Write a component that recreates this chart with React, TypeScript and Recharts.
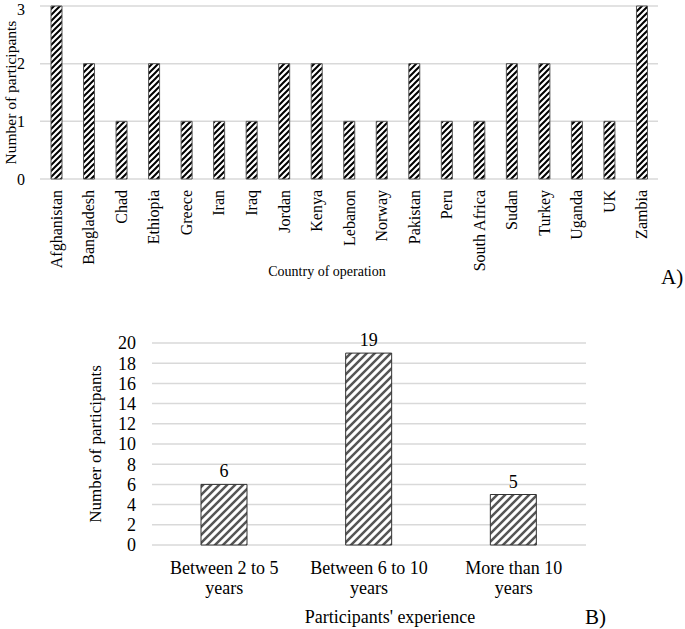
import React from "react";
import { BarChart, Bar, XAxis, YAxis, CartesianGrid, LabelList } from "recharts";

const countries = [
  "Afghanistan", "Bangladesh", "Chad", "Ethiopia", "Greece", "Iran", "Iraq", "Jordan", "Kenya",
  "Lebanon", "Norway", "Pakistan", "Peru", "South Africa", "Sudan", "Turkey", "Uganda", "UK", "Zambia",
];
const countryParticipants = [3, 2, 1, 2, 1, 1, 1, 2, 2, 1, 1, 2, 1, 1, 2, 2, 1, 1, 3];
const countryTicks = [0, 1, 2, 3];

const experienceGroups = ["Between 2 to 5 years", "Between 6 to 10 years", "More than 10 years"];
const experienceParticipants = [6, 19, 5];
const experienceTicks = [0, 2, 4, 6, 8, 10, 12, 14, 16, 18, 20];

const dataA = countries.map((c, i) => ({ country: c, value: countryParticipants[i] }));
const dataB = experienceGroups.map((g, i) => ({ experience: g, value: experienceParticipants[i] }));

const FONT = "Liberation Serif";

const CountryTick = (props: any) => {
  const { x, y, payload } = props;
  return (
    <text
      x={x}
      y={y}
      transform={`rotate(-90, ${x}, ${y})`}
      textAnchor="end"
      dy="0.35em"
      fontSize={16}
      fontFamily={FONT}
      style={{ fontFamily: FONT }}
      fill="#000"
    >
      {payload.value}
    </text>
  );
};

const ExperienceTick = (props: any) => {
  const { x, y, payload } = props;
  const s: string = payload.value;
  const idx = s.lastIndexOf(" ");
  const l1 = s.slice(0, idx);
  const l2 = s.slice(idx + 1);
  return (
    <text x={x} y={y} textAnchor="middle" fontSize={18} fontFamily={FONT} style={{ fontFamily: FONT }} fill="#000">
      <tspan x={x} dy="0.72em">{l1}</tspan>
      <tspan x={x} dy="20">{l2}</tspan>
    </text>
  );
};

export default function App() {
  return (
    <div style={{ position: "absolute", left: 0, top: 0, width: 685, height: 629, background: "#fff", fontFamily: FONT }}>
      <div style={{ position: "absolute", left: 0, top: 0 }}>
        <BarChart width={685} height={290} data={dataA} margin={{ top: 6, right: 27, bottom: 0, left: 0 }} barSize={11} style={{ fontFamily: FONT }}>
          <defs>
            <pattern id="hatchA" patternUnits="userSpaceOnUse" width="6" height="6">
              <rect width="6" height="6" fill="#fff" />
              <path d="M-1,1 l2,-2 M0,6 l6,-6 M5,7 l2,-2" stroke="#000" strokeWidth="2" />
            </pattern>
          </defs>
          <CartesianGrid vertical={false} stroke="#d9d9d9" strokeWidth={1.5} />
          <XAxis
            dataKey="country"
            interval={0}
            axisLine={false}
            tickLine={false}
            tickSize={0}
            tickMargin={11}
            height={111}
            tick={<CountryTick />}
            label={{ value: "Country of operation", position: "insideBottom", offset: 14, dx: -22, fontSize: 14, fontFamily: FONT, fill: "#000" }}
          />
          <YAxis
            domain={[0, 3]}
            ticks={countryTicks}
            width={40}
            axisLine={false}
            tickLine={false}
            tickSize={0}
            tickMargin={15}
            tick={{ fontSize: 16, fontFamily: FONT, fill: "#000" }}
            label={{ value: "Number of participants", angle: -90, position: "insideLeft", offset: 10, fontSize: 15.5, fontFamily: FONT, fill: "#000", style: { textAnchor: "middle" } }}
          />
          <Bar dataKey="value" fill="url(#hatchA)" stroke="#555" strokeWidth={1} isAnimationActive={false} />
        </BarChart>
      </div>
      <div style={{ position: "absolute", left: 661, top: 265, fontSize: 21, lineHeight: "24px", color: "#000" }}>A)</div>

      <div style={{ position: "absolute", left: 0, top: 320 }}>
        <BarChart width={685} height={309} data={dataB} margin={{ top: 23, right: 99, bottom: 0, left: 80 }} barSize={46} style={{ fontFamily: FONT }}>
          <defs>
            <pattern id="hatchB" patternUnits="userSpaceOnUse" width="8" height="8">
              <rect width="8" height="8" fill="#fff" />
              <path d="M-2,2 l4,-4 M0,8 l8,-8 M6,10 l4,-4" stroke="#555" strokeWidth="2.5" />
            </pattern>
          </defs>
          <CartesianGrid vertical={false} stroke="#d9d9d9" strokeWidth={1.5} />
          <XAxis
            dataKey="experience"
            interval={0}
            axisLine={false}
            tickLine={false}
            tickSize={0}
            tickMargin={16}
            height={84}
            tick={<ExperienceTick />}
            label={{ value: "Participants'  experience", position: "insideBottom", offset: 6, dx: 21, fontSize: 18, fontFamily: FONT, fill: "#000", style: { whiteSpace: "pre" } }}
          />
          <YAxis
            domain={[0, 20]}
            ticks={experienceTicks}
            interval={0}
            width={72}
            axisLine={false}
            tickLine={false}
            tickSize={0}
            tickMargin={16}
            tick={{ fontSize: 18, fontFamily: FONT, fill: "#000" }}
            label={{ value: "Number of participants", angle: -90, position: "insideLeft", offset: 15, fontSize: 17, fontFamily: FONT, fill: "#000", style: { textAnchor: "middle" } }}
          />
          <Bar dataKey="value" fill="url(#hatchB)" stroke="#333" strokeWidth={1} isAnimationActive={false}>
            <LabelList dataKey="value" position="top" offset={7} fontSize={18} fontFamily={FONT} fill="#000" />
          </Bar>
        </BarChart>
      </div>
      <div style={{ position: "absolute", left: 585, top: 605, fontSize: 21, lineHeight: "24px", color: "#000" }}>B)</div>
    </div>
  );
}
